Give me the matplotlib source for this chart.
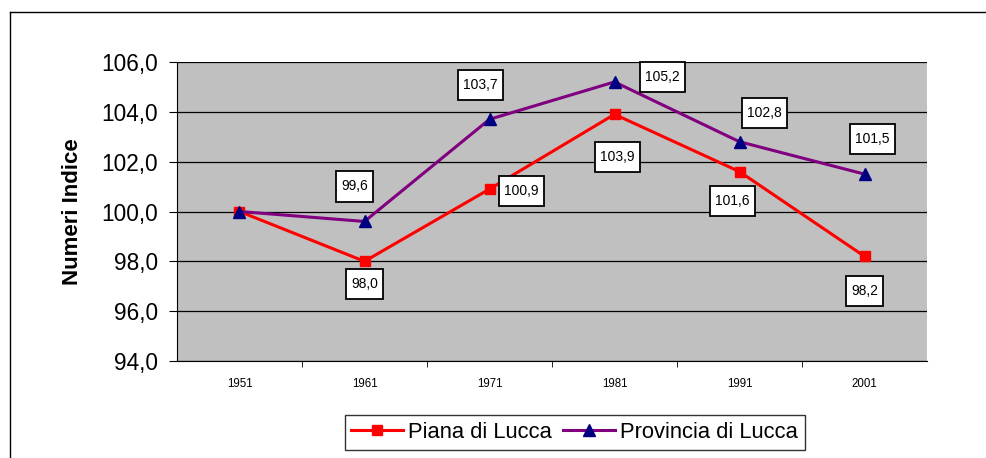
import matplotlib
matplotlib.use("Agg")
import matplotlib.pyplot as plt
from matplotlib.lines import Line2D
from matplotlib.path import Path

plt.rcParams['font.family'] = ['Liberation Sans', 'DejaVu Sans']

years = ["1951", "1961", "1971", "1981", "1991", "2001"]
piana = [100.0, 98.0, 100.9, 103.9, 101.6, 98.2]
provincia = [100.0, 99.6, 103.7, 105.2, 102.8, 101.5]
yticks = [94.0, 96.0, 98.0, 100.0, 102.0, 104.0, 106.0]

# label offsets in pixels (style)
piana_off = [None, (0, -23), (32, -2), (3, -43), (-7, -29), (0, -35)]
prov_off = [None, (-10, 35), (-9, 34), (48, 5), (25, 29), (8, 35)]

fig = plt.figure(figsize=(9.87, 4.58), dpi=100)
ax = fig.add_axes([177/987, 1-361/458, 750/987, 299/458])
ax.set_facecolor('#C0C0C0')

x = list(range(len(years)))
ax.plot(x, piana, color='#FF0000', lw=2.2, marker='s', ms=7,
        markerfacecolor='#FF0000', markeredgecolor='#FF0000', label='Piana di Lucca', zorder=3)
ax.plot(x, provincia, color='#800080', lw=2.2, marker='^', ms=9,
        markerfacecolor='#000080', markeredgecolor='#000080', label='Provincia di Lucca', zorder=3)


def excel_box(x0, y0, width, height, mutation_size):
    px = 0.36 * mutation_size
    py = 0.58 * mutation_size
    l, r = x0 - px, x0 + width + px
    b, t = y0 - py, y0 + height + py
    return Path([(l, b), (r, b), (r, t), (l, t), (l, b)], closed=True)


def fmt(v):
    return f"{v:.1f}".replace('.', ',')


for series, offs in ((piana, piana_off), (provincia, prov_off)):
    for i, (v, o) in enumerate(zip(series, offs)):
        if o is None:
            continue
        ax.annotate(fmt(v), (i, v), xytext=(o[0]*0.72, o[1]*0.72), textcoords='offset points',
                    ha='center', va='center', fontsize=10,
                    bbox=dict(boxstyle=excel_box, facecolor='white', edgecolor='black', lw=1.3),
                    zorder=5)

ax.set_xlim(-0.5, len(years)-0.5)
ax.set_ylim(94, 106)
ax.set_yticks(yticks)
ax.set_yticklabels([fmt(v) for v in yticks], fontsize=16.3)
ax.yaxis.grid(True, color='black', lw=0.9)
ax.set_axisbelow(True)
ax.set_xticks(x)
ax.set_xticklabels(years, fontsize=8.3)
ax.set_xticks([i + 0.5 for i in x[:-1]], minor=True)
ax.tick_params(axis='x', which='major', length=0, pad=12)
ax.tick_params(axis='x', which='minor', length=4, direction='out', color='black')
ax.tick_params(axis='y', length=5.8, direction='out', color='black', pad=8)
for s in ('top', 'right'):
    ax.spines[s].set_visible(False)
ax.spines['left'].set_color('black')
ax.spines['bottom'].set_color('black')
ax.set_ylabel('Numeri Indice', fontsize=16, fontweight='bold', labelpad=13)

leg = fig.legend(loc='center', bbox_to_anchor=(574.5/987, 1-432.5/458), ncol=2,
                 fontsize=15.8, frameon=True, fancybox=False, edgecolor='black',
                 handlelength=2.35, handletextpad=0.25, columnspacing=0.5, borderpad=0.3,
                 borderaxespad=0)
leg.get_frame().set_linewidth(1)

# outer frame
fig.add_artist(Line2D([10/987, 10/987], [0, 1-12/458], transform=fig.transFigure, color='black', lw=1))
fig.add_artist(Line2D([10/987, 1], [1-12/458, 1-12/458], transform=fig.transFigure, color='black', lw=1))

fig.savefig('out.png', dpi=100)
